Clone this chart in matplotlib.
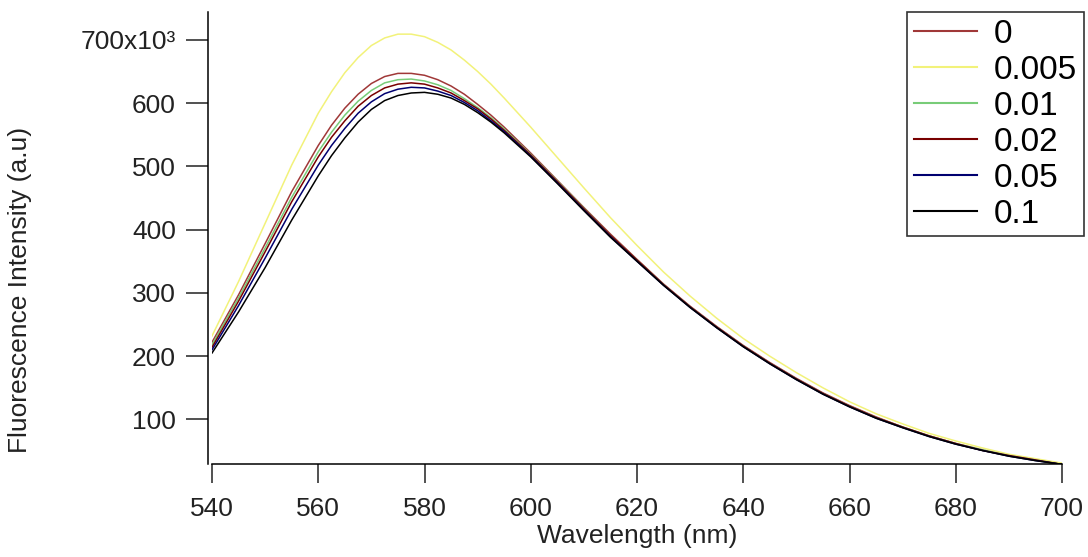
import matplotlib
matplotlib.use('Agg')
import matplotlib.pyplot as plt

plt.rcParams['font.family'] = ['Liberation Sans', 'DejaVu Sans']

# wavelength grid (nm)
wavelength = [540, 545, 550, 555, 560, 562.5, 565, 567.5, 570, 572.5, 575, 577.5,
              580, 582.5, 585, 587.5, 590, 592.5, 595, 600,
              605, 610, 615, 620, 625, 630, 635, 640, 645, 650, 655, 660, 665,
              670, 675, 680, 685, 690, 695, 700]

# intensities in units of 10^3
c_0 = [222, 297, 378, 460, 533, 565, 592, 614, 631, 642, 647, 647, 644, 637, 627,
       614, 598, 581, 562, 521, 478, 435,
       393, 353, 314, 279, 247, 217, 190, 165, 142, 122, 104, 88, 74, 62, 52, 43, 36, 30]
c_0005 = [232, 318, 410, 502, 584, 618, 648, 672, 691, 703, 709, 709, 705, 696, 684,
          668, 650, 630, 608, 562, 514, 466,
          419, 375, 333, 295, 260, 228, 200, 174, 150, 128, 109, 93, 78, 66, 55, 45, 38, 31]
c_001 = [218, 292, 371, 451, 523, 554, 581, 603, 620, 632, 637, 638, 635, 629, 620,
         607, 593, 577, 559, 519, 477, 434,
         391, 352, 313, 278, 246, 216, 189, 164, 141, 121, 103, 88, 74, 62, 52, 43, 36, 29]
c_002 = [214, 287, 365, 444, 515, 546, 572, 595, 612, 624, 630, 632, 630, 624, 616,
         604, 591, 575, 557, 518, 476, 433,
         391, 352, 313, 278, 246, 216, 189, 164, 141, 121, 103, 88, 74, 62, 51, 43, 36, 29]
c_005 = [210, 280, 355, 432, 502, 533, 560, 584, 602, 615, 622, 625, 624, 619, 612,
         601, 588, 572, 555, 516, 474, 431,
         389, 350, 312, 277, 245, 215, 188, 163, 140, 120, 102, 87, 73, 61, 51, 42, 35, 29]
c_01 = [205, 270, 340, 415, 485, 517, 545, 570, 590, 604, 612, 616, 617, 614, 608,
        598, 585, 570, 553, 515, 473, 430,
        388, 350, 312, 277, 245, 215, 188, 163, 140, 120, 102, 87, 73, 61, 51, 42, 35, 29]

labels = ['0', '0.005', '0.01', '0.02', '0.05', '0.1']
colors = ['#a03838', '#f2f27a', '#78cc78', '#780000', '#000070', '#000000']
series = [c_0, c_0005, c_001, c_002, c_005, c_01]

yticks = [100, 200, 300, 400, 500, 600, 700]
ytick_labels = ['100', '200', '300', '400', '500', '600', '700x10\u00b3']
xticks = [540, 560, 580, 600, 620, 640, 660, 680, 700]

fig = plt.figure(figsize=(10.88, 5.57), dpi=100)
ax = fig.add_axes([212 / 1088, 1 - 464 / 557, 850 / 1088, (464 - 12) / 557])

for vals, col, lab in zip(series, colors, labels):
    ax.plot(wavelength, vals, color=col, lw=1.1, label=lab)

ax.set_xlim(540, 700)
ax.set_ylim(29.6, 744)
ax.set_yticks(yticks)
ax.set_yticklabels(ytick_labels)
ax.set_xticks(xticks)

for s in ['top', 'right']:
    ax.spines[s].set_visible(False)
for s in ['left', 'bottom']:
    ax.spines[s].set_linewidth(1.1)
ax.spines['left'].set_position(('outward', 3))

ax.tick_params(axis='y', direction='out', length=16, width=1.1, pad=7,
               labelsize=19, colors='#222222')
ax.tick_params(axis='x', direction='out', length=14, width=1.1, pad=10,
               labelsize=19, colors='#222222')

ax.set_xlabel('Wavelength (nm)', fontsize=19, color='#222222', labelpad=2)
fig.text(20 / 1088, 1 - 290 / 557, 'Fluorescence Intensity (a.u)', rotation=90,
         ha='center', va='center', fontsize=19, color='#222222')

leg = fig.legend(loc='upper left', bbox_to_anchor=(907 / 1088, 1 - 12 / 557),
                 bbox_transform=fig.transFigure, fontsize=24, frameon=True,
                 fancybox=False, borderaxespad=0, borderpad=0.2,
                 labelspacing=0.15, handlelength=1.9, handletextpad=0.5)
leg.get_frame().set_edgecolor('black')
leg.get_frame().set_linewidth(1.2)
for line in leg.get_lines():
    line.set_linewidth(1.5)

fig.savefig('out.png', dpi=100)
